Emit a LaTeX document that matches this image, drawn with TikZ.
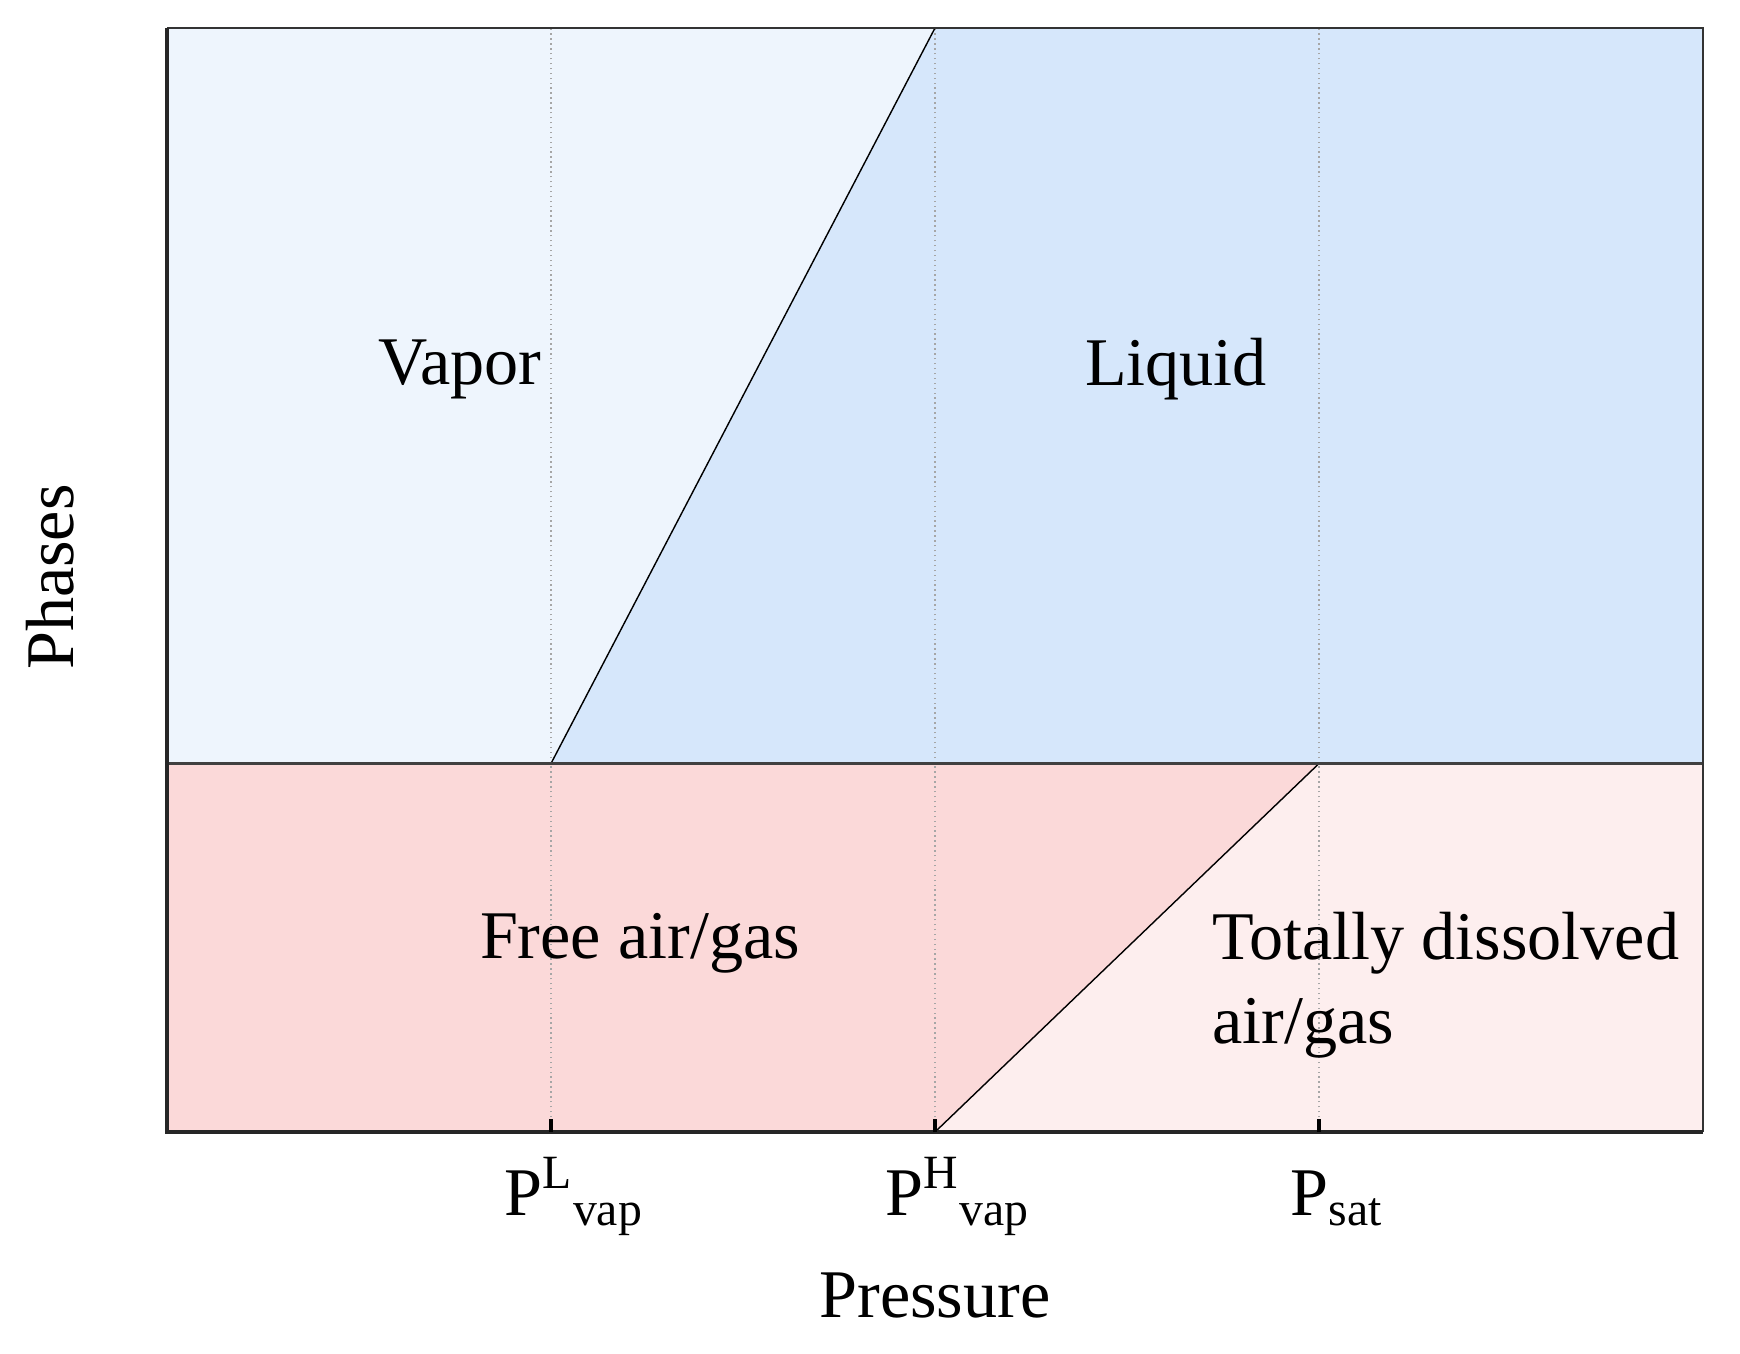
\documentclass[tikz,border=0pt]{standalone}
\usepackage{fontspec}
\setmainfont{Liberation Serif}
\usepackage{tikz}
\usetikzlibrary{positioning}
\definecolor{vapcol}{RGB}{238,245,253}
\definecolor{liqcol}{RGB}{214,231,251}
\definecolor{gascol}{RGB}{251,217,217}
\definecolor{dissolcol}{RGB}{253,238,238}
\begin{document}
\begin{tikzpicture}[
MyLabels/.style={font=\fontsize{19.4}{24}\selectfont},
MyTicks/.style={font=\fontsize{19.4}{24}\selectfont,anchor=base},
Borders/.style={draw=black!85,line width=1.2pt},
Dots/.style={gray!70,densely dotted,thin},
Segments/.style={draw=black,thin}
]
\useasboundingbox (0,0) rectangle (17.4,13.53);

% corners of the plot and the three pressures
\coordinate (BL) at (1.67,2.21);
\coordinate (TR) at (17.03,13.25);
\coordinate (ML) at (1.67,5.895);
\coordinate (MR) at (17.03,5.895);
\coordinate (PL) at (5.51,2.21);
\coordinate (PH) at (9.35,2.21);
\coordinate (PS) at (13.19,2.21);
\coordinate (PLm) at (5.51,5.895);
\coordinate (PSm) at (13.19,5.895);
\coordinate (PHt) at (9.35,13.25);

% regions
\fill[vapcol] (ML) -- (PLm) -- (PHt) -- (1.67,13.25) -- cycle;
\fill[liqcol] (PLm) -- (MR) -- (TR) -- (PHt) -- cycle;
\fill[gascol] (BL) -- (PH) -- (PSm) -- (ML) -- cycle;
\fill[dissolcol] (PH) -- (17.03,2.21) -- (MR) -- (PSm) -- cycle;

% dotted guides
\foreach \p in {PL,PH,PS}
  \draw[Dots] (\p) -- ++(0,11.04);

\draw[Segments] (PLm) -- (PHt);
\draw[Segments] (PH) -- (PSm);
\draw[draw=black!75,line width=0.9pt] (ML) -- (MR);

\draw[draw=black!80,line width=0.8pt] (1.67,13.25) -- (TR) -- (17.03,2.21);
\draw[Borders] (1.67,13.25) -- (BL) -- (17.03,2.21);
\foreach \p in {PL,PH,PS}
  \draw[black,line width=1pt] (\p) -- ++(0,0.13);

\node[MyLabels] (vapor) at (4.6,9.84) {Vapor};
\node[MyLabels] (liquid) at (11.76,9.84) {Liquid};
\node[MyLabels] (freegas) at (6.40,4.10) {Free air/gas};
\node[MyLabels,align=left,anchor=west] (dissolved) at (12.0,3.68) {Totally dissolved\\air/gas};

\node[MyTicks] (pvl) at (5.74,1.38) {P\textsuperscript{L}\textsubscript{vap}};
\node[MyTicks] (pvh) at (9.58,1.38) {P\textsuperscript{H}\textsubscript{vap}};
\node[MyTicks] (psat) at (13.37,1.38) {P\textsubscript{sat}};

\node[MyLabels] (pressure) at (9.35,0.57) {Pressure};
\node[MyLabels,rotate=90] (phases) at (0.50,7.76) {Phases};
\end{tikzpicture}
\end{document}
